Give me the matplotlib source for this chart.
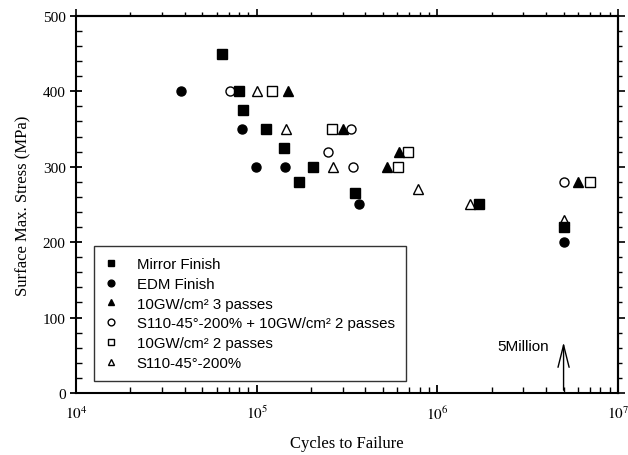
import matplotlib

matplotlib.use("Agg")
import matplotlib.pyplot as plt
from matplotlib.ticker import MultipleLocator, LogLocator, NullFormatter, FixedLocator

plt.rcParams["font.family"] = ["Liberation Serif", "DejaVu Serif"]
plt.rcParams["mathtext.fontset"] = "stix"

# cycles to failure / surface max. stress (MPa)
mirror_x = [6.4e4, 8.0e4, 8.4e4, 1.12e5, 1.42e5, 1.71e5, 2.05e5, 3.5e5, 1.7e6, 5.0e6]
mirror_y = [450, 400, 375, 350, 325, 280, 300, 265, 250, 220]

edm_x = [3.8e4, 8.3e4, 9.9e4, 1.44e5, 3.68e5, 5.0e6]
edm_y = [400, 350, 300, 300, 250, 200]

gw3_x = [1.49e5, 3.0e5, 5.3e5, 6.1e5, 6.0e6]
gw3_y = [400, 350, 300, 320, 280]

shot_gw2_x = [7.1e4, 2.48e5, 3.33e5, 3.41e5, 5.0e6]
shot_gw2_y = [400, 320, 350, 300, 280]

gw2_x = [1.22e5, 2.61e5, 6.05e5, 6.9e5, 7.0e6]
gw2_y = [400, 350, 300, 320, 280]

shot_x = [1.0e5, 1.45e5, 2.64e5, 7.8e5, 1.51e6, 5.0e6]
shot_y = [400, 350, 300, 270, 250, 230]

labels = [
    "Mirror Finish",
    "EDM Finish",
    "10GW/cm² 3 passes",
    "S110-45°-200% + 10GW/cm² 2 passes",
    "10GW/cm² 2 passes",
    "S110-45°-200%",
]

x_ticks = [1e4, 1e5, 1e6, 1e7]
x_ticklabels = [r"$10^{4}$", r"$10^{5}$", r"$10^{6}$", r"$10^{7}$"]

fig = plt.figure(figsize=(6.28, 4.56), dpi=100)
ax = fig.add_axes([0.121, 0.136, 0.863, 0.827])

ms = 6.5
ax.plot(mirror_x, mirror_y, "s", color="black", ms=ms, label=labels[0])
ax.plot(edm_x, edm_y, "o", color="black", ms=ms, label=labels[1])
ax.plot(shot_gw2_x, shot_gw2_y, "o", mfc="none", mec="black", mew=1.0, ms=ms, label=labels[3])
ax.plot(gw2_x, gw2_y, "s", mfc="none", mec="black", mew=1.0, ms=ms, label=labels[4])
ax.plot(shot_x, shot_y, "^", mfc="none", mec="black", mew=1.0, ms=ms, label=labels[5])
ax.plot(gw3_x, gw3_y, "^", color="black", ms=ms, label=labels[2])

ax.set_xscale("log")
ax.set_xlim(1e4, 1e7)
ax.set_ylim(0, 500)
ax.xaxis.set_major_locator(FixedLocator(x_ticks))
ax.set_xticklabels(x_ticklabels)
ax.xaxis.set_minor_locator(LogLocator(base=10, subs=range(2, 10)))
ax.xaxis.set_minor_formatter(NullFormatter())
ax.yaxis.set_major_locator(MultipleLocator(100))
ax.yaxis.set_minor_locator(MultipleLocator(20))

for s in ax.spines.values():
    s.set_linewidth(1.5)
ax.tick_params(axis="y", which="major", direction="inout", length=8, width=1.3, labelsize=11)
ax.tick_params(axis="x", which="major", direction="in", length=6, width=1.3, labelsize=11, pad=8)
ax.tick_params(which="minor", direction="in", length=4, width=1.0)

# mirrored ticks pointing outward on top and right
top = ax.secondary_xaxis("top")
top.xaxis.set_major_locator(FixedLocator(x_ticks))
top.xaxis.set_minor_locator(LogLocator(base=10, subs=range(2, 10)))
top.tick_params(which="major", direction="out", length=5, width=1.2, labeltop=False)
top.tick_params(which="minor", direction="out", length=3, width=1.0)
top.xaxis.set_minor_formatter(NullFormatter())
top.spines["top"].set_linewidth(1.5)

right = ax.secondary_yaxis("right")
right.yaxis.set_major_locator(MultipleLocator(100))
right.yaxis.set_minor_locator(MultipleLocator(20))
right.tick_params(which="major", direction="out", length=5, width=1.2, labelright=False)
right.tick_params(which="minor", direction="out", length=3, width=1.0)
right.spines["right"].set_linewidth(1.5)

ax.set_xlabel("Cycles to Failure", fontsize=12, labelpad=10)
ax.set_ylabel("Surface Max. Stress (MPa)", fontsize=12, labelpad=8)

ax.annotate("", xy=(5e6, 71), xytext=(5e6, 0),
            arrowprops=dict(arrowstyle="->,head_length=1.6,head_width=0.4", lw=1.0, color="black"))
ax.text(2.15e6, 62, "5Million", fontsize=11, family=["Liberation Sans", "DejaVu Sans"], va="center")

handles, labs = ax.get_legend_handles_labels()
order = [labs.index(l) for l in labels]
leg = ax.legend([handles[i] for i in order], [labs[i] for i in order],
                loc="lower left", bbox_to_anchor=(94 / 628, 1 - 382 / 456),
                bbox_transform=fig.transFigure, borderaxespad=0, frameon=True, fancybox=False,
                edgecolor="black", borderpad=0.75, handlelength=0.8, handletextpad=1.3,
                labelspacing=0.38, markerscale=0.75,
                prop={"family": "Liberation Sans", "size": 10.8})
leg.get_frame().set_linewidth(1.0)

fig.savefig("out.png", dpi=100)
